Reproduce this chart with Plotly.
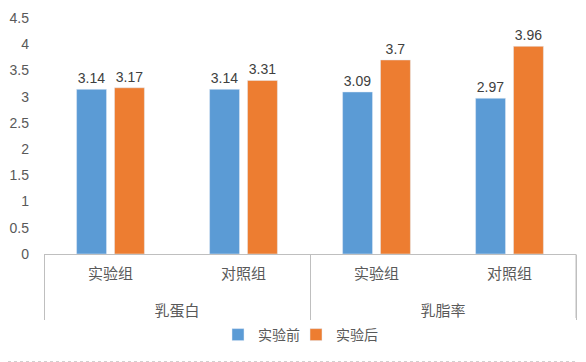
import plotly.graph_objects as go

groups = ["乳蛋白", "乳蛋白", "乳脂率", "乳脂率"]
subgroups = ["实验组", "对照组", "实验组", "对照组"]
before = [3.14, 3.14, 3.09, 2.97]
after = [3.17, 3.31, 3.70, 3.96]
series_names = ["实验前", "实验后"]
y_ticks = [0, 0.5, 1, 1.5, 2, 2.5, 3, 3.5, 4, 4.5]

num_font = "Liberation Sans, Open Sans, sans-serif"
cjk_font = "Noto Sans CJK SC"
# leading line break pushes the outer category level further down
x = [["<br>" + g for g in groups], subgroups]

# the page body has an 8px margin, so the figure is sized/offset to compensate
W, H = 578, 354
ML, MR, MT, MB = 36, 10, 10, 108
PW, PH = W - ML - MR, H - MT - MB

fig = go.Figure()
fig.add_trace(go.Bar(
    x=x, y=before, name=series_names[0], marker_color="#5B9BD5", legend="legend",
    text=[f"{v:g}" for v in before], textposition="outside",
    textfont=dict(family=num_font, size=14, color="#404040"), cliponaxis=False,
))
fig.add_trace(go.Bar(
    x=x, y=after, name=series_names[1], marker_color="#ED7D31", legend="legend2",
    text=[f"{v:g}" for v in after], textposition="outside",
    textfont=dict(family=num_font, size=14, color="#404040"), cliponaxis=False,
))

leg_common = dict(orientation="h", xanchor="left", y=-81 / PH, yanchor="middle",
                  font=dict(family=cjk_font, size=14, color="#595959"),
                  itemwidth=30, bgcolor="rgba(0,0,0,0)")

fig.update_layout(
    width=W, height=H,
    margin=dict(l=ML, r=MR, t=MT, b=MB),
    paper_bgcolor="white", plot_bgcolor="white",
    barmode="group", bargap=0.43, bargroupgap=0.21,
    font=dict(family=cjk_font, size=14, color="#595959"),
    showlegend=True,
    legend=dict(x=(218 - 44) / PW, **leg_common),
    legend2=dict(x=(296 - 44) / PW, **leg_common),
    yaxis=dict(range=[0, 4.5], tickvals=y_ticks, ticktext=[f"{v:g}" for v in y_ticks],
               showgrid=False, zeroline=False, showline=False, automargin=False,
               tickfont=dict(family=num_font, size=14, color="#595959"), ticks="",
               ticklabelstandoff=14),
    xaxis=dict(type="multicategory", showline=True, linecolor="#BFBFBF", linewidth=1,
               showdividers=True, dividercolor="#BFBFBF", dividerwidth=1,
               automargin=False, ticklabelstandoff=6,
               tickfont=dict(family=cjk_font, size=15, color="#595959"), ticks=""),
    shapes=[
        dict(type="line", xref="paper", yref="paper",
             x0=1 + 9.5 / PW, x1=1 + 9.5 / PW, y0=-107.5 / PH, y1=1 + 10 / PH,
             line=dict(color="#D0D0D0", width=1, dash="dot")),
        dict(type="line", xref="paper", yref="paper",
             x0=-36 / PW, x1=1 + 9.5 / PW, y0=-107.5 / PH, y1=-107.5 / PH,
             line=dict(color="#D0D0D0", width=1, dash="dot")),
        dict(type="line", xref="paper", yref="paper",
             x0=1, x1=1, y0=0, y1=-64 / PH,
             line=dict(color="#BFBFBF", width=1)),
    ],
)

fig.write_html("out.html")
